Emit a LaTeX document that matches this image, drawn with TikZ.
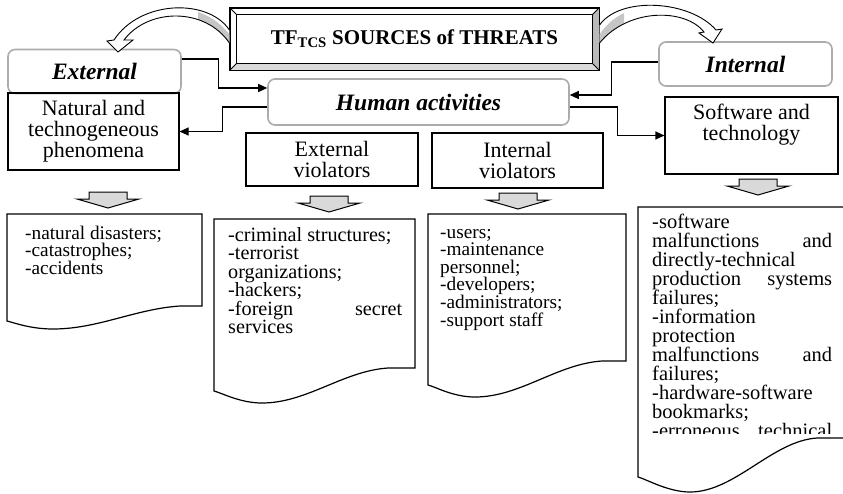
\documentclass[tikz,border=0pt]{standalone}
\usepackage{fontspec}
\setmainfont{Liberation Serif}
\usetikzlibrary{arrows.meta,calc}

\newcommand{\docbox}[8]{%
  \draw[doc] (#1,#2) -- (#3,#2) -- (#3,#4) -- (#5,#4)
    .. controls ($(#5,#4)+(-45,3)$) and ($(#6,#7)+(45,0)$) .. (#6,#7)
    .. controls ($(#6,#7)+(-22,0)$) and ($(#1,#8)+(8,2)$) .. (#1,#8) -- cycle;}

\tikzset{
  titlebox/.style={draw, line width=1.2pt, fill=white, minimum width=369pt,
    minimum height=62pt, font=\fontsize{21}{21}\selectfont\bfseries},
  kind/.style={draw=gray!65, line width=1.6pt, rounded corners=7pt, fill=white,
    minimum height=44pt, font=\fontsize{23.5}{24}\selectfont\bfseries\itshape},
  srcbox/.style={draw, line width=1.1pt, align=center, inner sep=0pt,
    font=\fontsize{22}{21}\selectfont},
  doc/.style={draw, line width=1.2pt},
  items/.style={anchor=base west, inner sep=0pt, align=justify,
    font=\fontsize{19.3}{17.6}\selectfont},
  link/.style={line width=1.1pt, -{Triangle[length=9pt,width=8pt]}},
  curvarrow/.style={draw, line width=0.9pt, fill=white},
  dnarrow/.pic={\filldraw[fill=gray!30, line width=1pt]
    (-19,0) -- (19,0) -- (19,7) -- (31,7) -- (0,16) -- (-31,7) -- (-19,7) -- cycle;}
}

\begin{document}
\begin{tikzpicture}[x=1pt,y=-1pt]
  \useasboundingbox (0,0) rectangle (843,493);

  \node[titlebox] (title) at (414.5,39) {TF\textsubscript{TCS} SOURCES of THREATS};
  \fill[gray!55] ($(title.north east)+(-7,7)$) -- (title.north east)
    -- (title.south east) -- ($(title.south east)+(-7,-7)$) -- cycle;
  \fill[gray!30] ($(title.south west)+(7,-7)$) -- ($(title.south east)+(-7,-7)$)
    -- (title.south east) -- (title.south west) -- cycle;
  \draw[line width=1.2pt] (title.north west) rectangle (title.south east);
  \draw[line width=1pt] ($(title.north west)+(7,7)$) rectangle ($(title.south east)+(-7,-7)$);
  \draw[line width=0.8pt] (title.north west) -- ++(7,7) (title.south west) -- ++(7,-7)
    (title.north east) -- ++(-7,7) (title.south east) -- ++(-7,-7);

  \node[kind, minimum width=173pt] (ext) at (94.5,71.5) {External};
  \node[kind, minimum width=301pt, minimum height=46pt] (hum) at (418.5,102) {Human activities};
  \node[kind, minimum width=173pt] (int) at (745.5,64) {Internal};

  \node[srcbox, minimum width=171pt, minimum height=77pt] (nat) at (93.5,131.5)
    {Natural and\\technogeneous\\phenomena};
  \node[srcbox, minimum width=173pt, minimum height=77pt] (soft) at (751.5,135.5)
    {Software and\\technology\\\strut};
  \node[srcbox, minimum width=172pt, minimum height=53pt] (extv) at (332,159.5)
    {External\\violators};
  \node[srcbox, minimum width=171pt, minimum height=55pt] (intv) at (517.5,160.5)
    {Internal\\violators};

  \coordinate (ltip) at (118,52);
  \coordinate (rtip) at (713,43);
  \draw[curvarrow, path picture={\fill[gray!45] (232,38) .. controls (222,24) and (212,17) .. (198,12)
      -- (198,60) -- (232,60) -- cycle;}]
    ($(title.west)+(0,-9)$) .. controls (208,-2) and (140,0) .. ($(ltip)+(-4,-12)$)
    -- ($(ltip)+(-11,-11)$) -- (ltip) -- ($(ltip)+(15,-12)$) -- ($(ltip)+(6,-12)$)
    .. controls (148,8) and (205,7) .. ($(title.west)+(0,4)$);
  \draw[curvarrow, path picture={\fill[gray!45] (597,38) .. controls (605,26) and (612,19) .. (624,13)
      -- (624,60) -- (597,60) -- cycle;}]
    ($(title.east)+(0,-14)$) .. controls (620,-4) and (690,0) .. ($(rtip)+(3,-13)$)
    -- ($(rtip)+(9,-14)$) -- (rtip) -- ($(rtip)+(-14,-10)$) -- ($(rtip)+(-9,-11)$)
    .. controls (685,8) and (628,8) .. ($(title.east)+(0,4)$);

  \draw[link] ([yshift=12.5pt]ext.east) -- ++(37,0) |- ([yshift=14pt]hum.west);
  \draw[link] ([yshift=-5pt]hum.west) -- ++(-45,0) |- (nat.east);
  \draw[link] ([yshift=2pt]int.west) -- ++(-47,0) |- ([yshift=7pt]hum.east);
  \draw[link] ([yshift=-5pt]hum.east) -- ++(48,0) |- (soft.west);

  \pic at (108,192) {dnarrow};
  \pic at (329,196) {dnarrow};
  \pic at (518,193) {dnarrow};
  \pic at (758,179) {dnarrow};

  \docbox{7}{214}{202}{306}{180}{53}{329}{321}
  \docbox{214}{219}{415}{368}{388}{262}{403}{391}
  \docbox{428}{214}{626}{361}{602}{475}{397}{385}
  \docbox{638}{207}{848}{438}{817}{690}{492}{477}

  \node[items, text width=176pt] (nlist) at (25,239)
    {-natural disasters;\\-catastrophes;\\-accidents};
  \node[items, text width=174pt, font=\fontsize{20.2}{18.5}\selectfont] (elist) at (228,241)
    {-criminal structures;\\-terrorist\\organizations;\\-hackers;\\-foreign\hfill secret\\services};
  \node[items, text width=176pt] (ilist) at (440,238)
    {-users;\\-maintenance\\personnel;\\-developers;\\-administrators;\\-support staff};
  \begin{scope}
    \clip (638,207) rectangle (843,433);
    \node[items, text width=180pt, font=\fontsize{20.5}{19}\selectfont] (slist) at (652,228)
      {-software\\malfunctions\hfill and\\directly-technical\\production\hfill systems\\failures;\\
       -information\\protection\\malfunctions\hfill and\\failures;\\-hardware-software\\bookmarks;\\
       -erroneous\hfill technical};
  \end{scope}
\end{tikzpicture}
\end{document}
